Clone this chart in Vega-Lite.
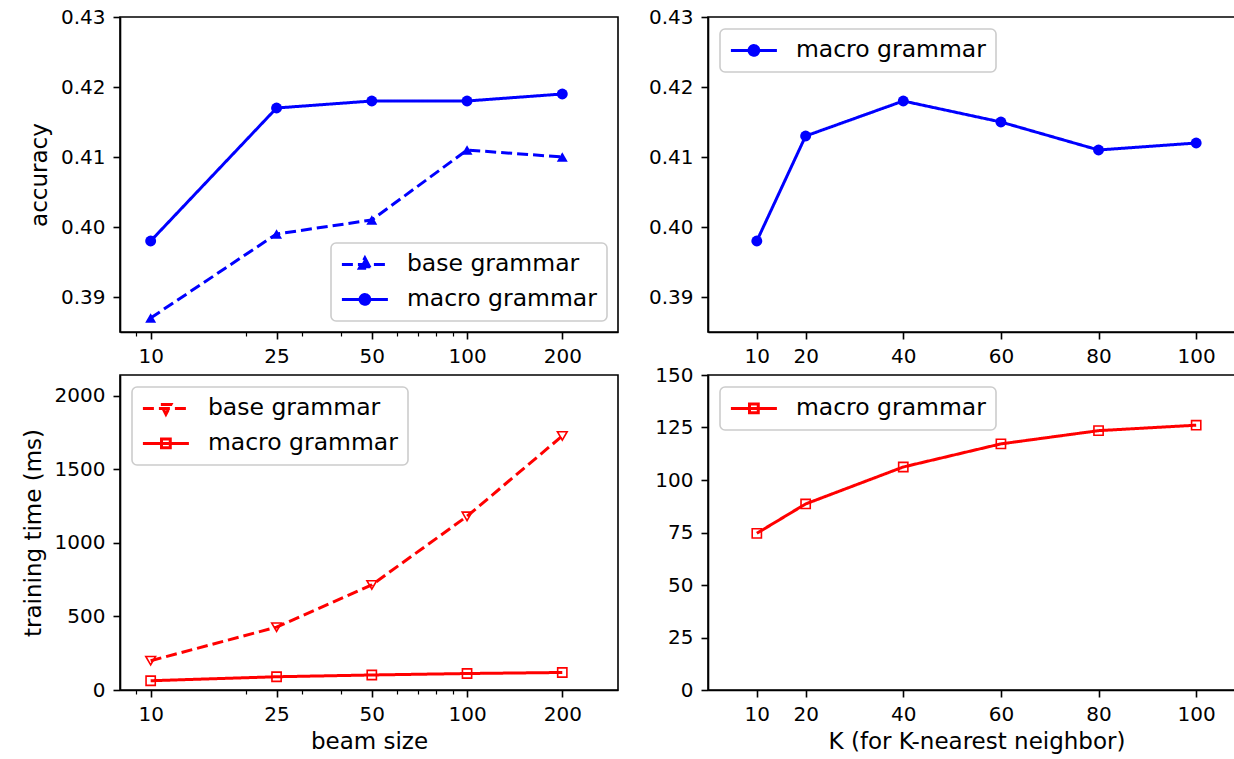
{
  "$schema": "https://vega.github.io/schema/vega-lite/v6.json",
  "padding": {"left": 21, "top": 6, "right": 0, "bottom": 0},
  "background": "white",
  "columns": 2,
  "spacing": {"row": 43, "column": 90},
  "bounds": "flush",
  "align": "each",
  "resolve": {
    "scale": {"strokeDash": "independent"},
    "legend": {"strokeDash": "independent"}
  },
  "config": {
    "font": "DejaVu Sans",
    "view": {"stroke": "#000000", "strokeWidth": 1.6},
    "axis": {
      "domainColor": "#000000", "domainWidth": 1.6,
      "tickColor": "#000000", "tickWidth": 1.6, "tickSize": 7,
      "labelFont": "DejaVu Sans", "labelFontSize": 20, "labelColor": "#000000",
      "titleFont": "DejaVu Sans", "titleFontSize": 23, "titleFontWeight": "normal", "titleColor": "#000000",
      "grid": false, "labelFlush": false, "labelOverlap": false
    },
    "axisX": {"labelPadding": 7, "titlePadding": 6},
    "axisY": {"labelPadding": 8, "titlePadding": 9},
    "legend": {
      "labelFont": "DejaVu Sans", "labelFontSize": 23.5, "labelColor": "#000000", "labelLimit": 400,
      "padding": 9.4, "rowPadding": 11, "cornerRadius": 5,
      "fillColor": "rgba(255,255,255,0.8)", "strokeColor": "#cccccc",
      "symbolSize": 2116, "symbolStrokeWidth": 3, "clipHeight": 24,
      "labelOffset": 17.5, "offset": 11.5, "direction": "vertical"
    }
  },
  "datasets": {
    "tl": [
      {"beam": 10, "grammar": "base grammar", "acc": 0.387},
      {"beam": 25, "grammar": "base grammar", "acc": 0.399},
      {"beam": 50, "grammar": "base grammar", "acc": 0.401},
      {"beam": 100, "grammar": "base grammar", "acc": 0.411},
      {"beam": 200, "grammar": "base grammar", "acc": 0.410},
      {"beam": 10, "grammar": "macro grammar", "acc": 0.398},
      {"beam": 25, "grammar": "macro grammar", "acc": 0.417},
      {"beam": 50, "grammar": "macro grammar", "acc": 0.418},
      {"beam": 100, "grammar": "macro grammar", "acc": 0.418},
      {"beam": 200, "grammar": "macro grammar", "acc": 0.419}
    ],
    "tr": [
      {"k": 10, "grammar": "macro grammar", "acc": 0.398},
      {"k": 20, "grammar": "macro grammar", "acc": 0.413},
      {"k": 40, "grammar": "macro grammar", "acc": 0.418},
      {"k": 60, "grammar": "macro grammar", "acc": 0.415},
      {"k": 80, "grammar": "macro grammar", "acc": 0.411},
      {"k": 100, "grammar": "macro grammar", "acc": 0.412}
    ],
    "bl": [
      {"beam": 10, "grammar": "base grammar", "time": 199},
      {"beam": 25, "grammar": "base grammar", "time": 427},
      {"beam": 50, "grammar": "base grammar", "time": 714},
      {"beam": 100, "grammar": "base grammar", "time": 1180},
      {"beam": 200, "grammar": "base grammar", "time": 1726},
      {"beam": 10, "grammar": "macro grammar", "time": 63},
      {"beam": 25, "grammar": "macro grammar", "time": 90},
      {"beam": 50, "grammar": "macro grammar", "time": 102},
      {"beam": 100, "grammar": "macro grammar", "time": 112},
      {"beam": 200, "grammar": "macro grammar", "time": 119}
    ],
    "br": [
      {"k": 10, "grammar": "macro grammar", "time": 74.6},
      {"k": 20, "grammar": "macro grammar", "time": 88.6},
      {"k": 40, "grammar": "macro grammar", "time": 106.2},
      {"k": 60, "grammar": "macro grammar", "time": 117.2},
      {"k": 80, "grammar": "macro grammar", "time": 123.5},
      {"k": 100, "grammar": "macro grammar", "time": 126.1}
    ]
  },
  "concat": [
    {
      "width": 498, "height": 315,
      "data": {"name": "tl"},
      "encoding": {
        "x": {"field": "beam", "type": "quantitative",
          "scale": {"type": "log", "domain": [8, 300], "nice": false},
          "axis": {"title": null, "values": [9, 10, 20, 25, 30, 40, 50, 60, 70, 80, 90, 100, 200],
            "labelExpr": "indexof([10,25,50,100,200], datum.value) >= 0 ? '' + datum.value : ''",
            "tickSize": {"condition": {"test": "indexof([10,25,50,100,200], datum.value) < 0", "value": 4}, "value": 7},
            "tickWidth": {"condition": {"test": "indexof([10,25,50,100,200], datum.value) < 0", "value": 1.2}, "value": 1.6}}},
        "y": {"field": "acc", "type": "quantitative",
          "scale": {"domain": [0.385, 0.43], "nice": false, "zero": false},
          "axis": {"title": "accuracy", "values": [0.39, 0.40, 0.41, 0.42, 0.43], "format": ".2f"}}
      },
      "layer": [
        {"mark": {"type": "line", "color": "#0000ff", "strokeWidth": 3, "strokeJoin": "round"},
         "encoding": {"strokeDash": {"field": "grammar", "type": "nominal",
           "scale": {"domain": ["base grammar", "macro grammar"], "range": [[11, 5], [1, 0]]},
           "legend": {"title": null, "orient": "bottom-right",
             "symbolStrokeColor": "#0000ff", "symbolFillColor": "#0000ff",
             "encode": {"symbols": {"update": {"shape": {"signal": "datum.value === 'base grammar' ? 'M-1,0H1M0,-0.28L0.24,0.17L-0.24,0.17Z' : 'M-1,0H1M0.21,0A0.21,0.21,0,1,1,-0.21,0A0.21,0.21,0,1,1,0.21,0Z'"}}},
                        "legend": {"update": {"strokeWidth": {"value": 1.6}}}}}}}},
        {"transform": [{"filter": "datum.grammar === 'base grammar'"}],
         "mark": {"type": "point", "filled": true, "color": "#0000ff", "size": 120, "opacity": 1, "shape": "triangle-up"},
         "encoding": {}},
        {"transform": [{"filter": "datum.grammar === 'macro grammar'"}],
         "mark": {"type": "point", "filled": true, "color": "#0000ff", "size": 120, "opacity": 1, "shape": "circle"},
         "encoding": {}}
      ]
    },
    {
      "width": 537, "height": 315,
      "data": {"name": "tr"},
      "encoding": {
        "x": {"field": "k", "type": "quantitative",
          "scale": {"domain": [0, 110], "nice": false, "zero": false},
          "axis": {"title": null, "values": [10, 20, 40, 60, 80, 100]}},
        "y": {"field": "acc", "type": "quantitative",
          "scale": {"domain": [0.385, 0.43], "nice": false, "zero": false},
          "axis": {"title": null, "values": [0.39, 0.40, 0.41, 0.42, 0.43], "format": ".2f"}}
      },
      "layer": [
        {"mark": {"type": "line", "color": "#0000ff", "strokeWidth": 3, "strokeJoin": "round"},
         "encoding": {"strokeDash": {"field": "grammar", "type": "nominal",
           "scale": {"domain": ["macro grammar"], "range": [[1, 0]]},
           "legend": {"title": null, "orient": "top-left",
             "symbolStrokeColor": "#0000ff", "symbolFillColor": "#0000ff",
             "symbolType": "M-1,0H1M0.21,0A0.21,0.21,0,1,1,-0.21,0A0.21,0.21,0,1,1,0.21,0Z",
             "encode": {"legend": {"update": {"strokeWidth": {"value": 1.6}}}}}}}},
        {"mark": {"type": "point", "filled": true, "color": "#0000ff", "size": 120, "opacity": 1, "shape": "circle"},
         "encoding": {}}
      ]
    },
    {
      "width": 498, "height": 315,
      "data": {"name": "bl"},
      "encoding": {
        "x": {"field": "beam", "type": "quantitative",
          "scale": {"type": "log", "domain": [8, 300], "nice": false},
          "axis": {"title": "beam size", "values": [9, 10, 20, 25, 30, 40, 50, 60, 70, 80, 90, 100, 200],
            "labelExpr": "indexof([10,25,50,100,200], datum.value) >= 0 ? '' + datum.value : ''",
            "tickSize": {"condition": {"test": "indexof([10,25,50,100,200], datum.value) < 0", "value": 4}, "value": 7},
            "tickWidth": {"condition": {"test": "indexof([10,25,50,100,200], datum.value) < 0", "value": 1.2}, "value": 1.6}}},
        "y": {"field": "time", "type": "quantitative",
          "scale": {"domain": [0, 2140], "nice": false},
          "axis": {"title": "training time (ms)", "values": [0, 500, 1000, 1500, 2000], "format": "d"}}
      },
      "layer": [
        {"mark": {"type": "line", "color": "#ff0000", "strokeWidth": 3, "strokeJoin": "round"},
         "encoding": {"strokeDash": {"field": "grammar", "type": "nominal",
           "scale": {"domain": ["base grammar", "macro grammar"], "range": [[11, 5], [1, 0]]},
           "legend": {"title": null, "orient": "top-left",
             "symbolStrokeColor": "#ff0000", "symbolFillColor": "transparent",
             "encode": {"symbols": {"update": {"shape": {"signal": "datum.value === 'base grammar' ? 'M-1,0H1M-0.22,-0.17H0.22L0,0.25Z' : 'M-1,0H1M-0.19,-0.19H0.19V0.19H-0.19Z'"}}},
                        "legend": {"update": {"strokeWidth": {"value": 1.6}}}}}}}},
        {"transform": [{"filter": "datum.grammar === 'base grammar'"}],
         "mark": {"type": "point", "filled": false, "color": "#ff0000", "size": 95, "opacity": 1, "strokeWidth": 1.6, "shape": "triangle-down"},
         "encoding": {}},
        {"transform": [{"filter": "datum.grammar === 'macro grammar'"}],
         "mark": {"type": "point", "filled": false, "color": "#ff0000", "size": 85, "opacity": 1, "strokeWidth": 1.6, "shape": "square"},
         "encoding": {}}
      ]
    },
    {
      "width": 537, "height": 315,
      "data": {"name": "br"},
      "encoding": {
        "x": {"field": "k", "type": "quantitative",
          "scale": {"domain": [0, 110], "nice": false, "zero": false},
          "axis": {"title": "K (for K-nearest neighbor)", "values": [10, 20, 40, 60, 80, 100]}},
        "y": {"field": "time", "type": "quantitative",
          "scale": {"domain": [0, 150], "nice": false},
          "axis": {"title": null, "values": [0, 25, 50, 75, 100, 125, 150], "format": "d"}}
      },
      "layer": [
        {"mark": {"type": "line", "color": "#ff0000", "strokeWidth": 3, "strokeJoin": "round"},
         "encoding": {"strokeDash": {"field": "grammar", "type": "nominal",
           "scale": {"domain": ["macro grammar"], "range": [[1, 0]]},
           "legend": {"title": null, "orient": "top-left",
             "symbolStrokeColor": "#ff0000", "symbolFillColor": "transparent",
             "symbolType": "M-1,0H1M-0.19,-0.19H0.19V0.19H-0.19Z",
             "encode": {"legend": {"update": {"strokeWidth": {"value": 1.6}}}}}}}},
        {"mark": {"type": "point", "filled": false, "color": "#ff0000", "size": 85, "opacity": 1, "strokeWidth": 1.6, "shape": "square"},
         "encoding": {}}
      ]
    }
  ]
}
